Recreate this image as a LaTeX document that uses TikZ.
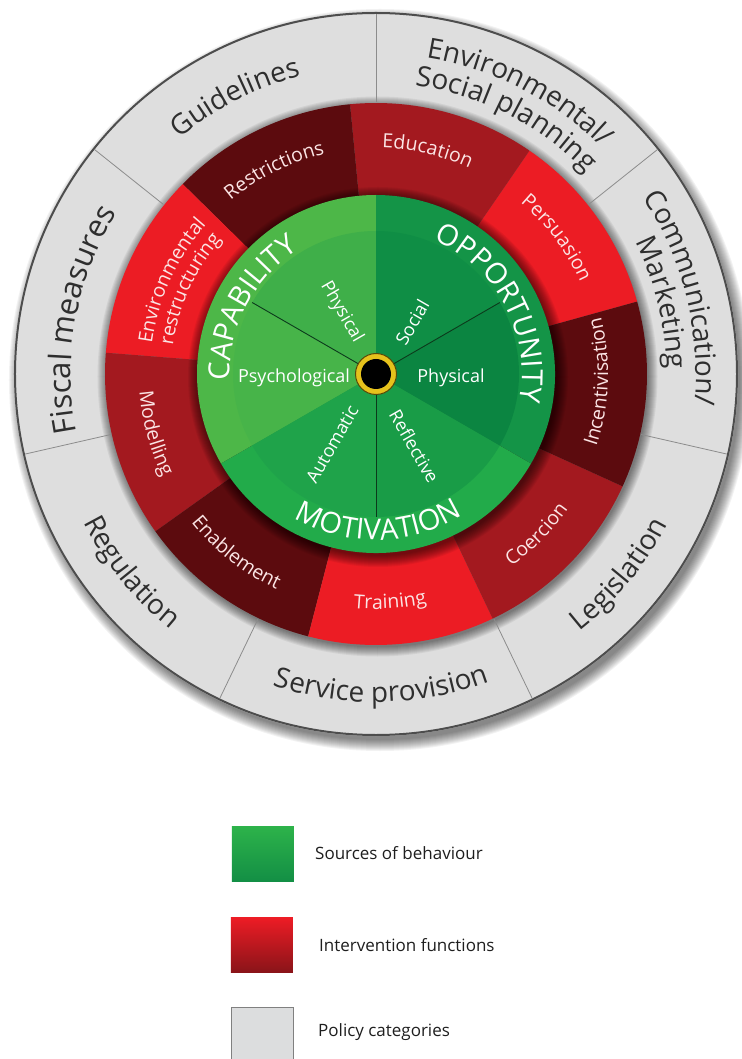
\documentclass[tikz,border=0pt]{standalone}
\usepackage{fontspec}
\setmainfont{Open Sans}
\usetikzlibrary{decorations.text}
\definecolor{polfill}{HTML}{DEDEDE}
\definecolor{polline}{HTML}{4D4D4D}
\definecolor{divcol}{HTML}{8C8C8C}
\definecolor{poltxt}{HTML}{2E2E2E}
\definecolor{inttxt}{HTML}{FBE4E4}
\definecolor{rb}{HTML}{EC1C24}
\definecolor{rm}{HTML}{A3191F}
\definecolor{rd}{HTML}{5C0B0E}
\definecolor{capo}{HTML}{4DB748}
\definecolor{capph}{HTML}{3FAF49}
\definecolor{capps}{HTML}{47B449}
\definecolor{oppo}{HTML}{149447}
\definecolor{oppso}{HTML}{0F8E45}
\definecolor{oppph}{HTML}{0B8541}
\definecolor{moto}{HTML}{22AB4A}
\definecolor{motau}{HTML}{1FA34A}
\definecolor{motre}{HTML}{199C47}
\definecolor{seccol}{HTML}{0C3A1C}
\definecolor{dotyel}{HTML}{E6C21C}
\definecolor{dotedge}{HTML}{5A4A08}
\definecolor{legGa}{HTML}{2DB34A}
\definecolor{legGb}{HTML}{138F45}
\definecolor{legRa}{HTML}{EE1C25}
\definecolor{legRb}{HTML}{8A1419}
\definecolor{legGray}{HTML}{DCDDDE}
\definecolor{legtxt}{HTML}{1E1E1E}
\newcommand\fPol{\fontsize{28pt}{30pt}\selectfont\color{poltxt}}
\newcommand\fPolL{\fontsize{31pt}{33pt}\selectfont\color{poltxt}}
\newcommand\fInt{\fontsize{19.5pt}{21pt}\selectfont\color{inttxt}}
\newcommand\fSrc{\fontsize{29pt}{31pt}\selectfont\color{white}}
\newcommand\ArcTop[4]{\path[decorate,decoration={text along path,text={|#1|#2},text align=center}] ({#3+80}:#4) arc[start angle={#3+80},end angle={#3-80},radius=#4];}
\newcommand\ArcBot[4]{\path[decorate,decoration={text along path,text={|#1|#2},text align=center}] ({#3-80}:#4) arc[start angle={#3-80},end angle={#3+80},radius=#4];}
\tikzset{
  divline/.style={draw=divcol,line width=0.8pt},
  secline/.style={draw=seccol,line width=0.9pt},
  srcsub/.style={font=\fontsize{18pt}{20pt}\selectfont,text=white,inner sep=0pt},
  legbox/.style={minimum width=62pt,minimum height=55pt,inner sep=0pt},
  legtext/.style={font=\fontsize{17pt}{19pt}\selectfont,text=legtxt,anchor=west,inner sep=0pt}
}
\begin{document}
\begin{tikzpicture}
\useasboundingbox (-376pt,-685pt) rectangle (365pt,374pt);
% outer drop shadow
\foreach \i in {1,...,12}{\pgfmathsetmacro\rr{359+\i}\fill[black,opacity=0.05] (4pt,-6pt) circle (\rr pt);}
% policy ring
\fill[polfill] (0,0) circle (362pt);
\draw[line width=2pt,draw=polline] (0,0) circle (361pt);
% shadow of red ring
\foreach \i in {1,...,10}{\pgfmathsetmacro\rr{270+\i}\fill[black,opacity=0.055] (1.5pt,-2.5pt) circle (\rr pt);}
% intervention sectors
\foreach \a/\c in {15.5/rb,55.5/rm,95.5/rd,135.5/rb,175.5/rm,215.5/rd,255.5/rb,295.5/rm,335.5/rd}
  \fill[\c] (0,0) -- (\a:271pt) arc[start angle=\a,end angle=\a+40,radius=271pt] -- cycle;
% policy dividers
\foreach \a in {38.571,90,141.429,192.857,244.286,295.714,347.143}
  \draw[divline] (\a:272pt) -- (\a:360pt);
% shadow of green disc
\foreach \i in {1,...,12}{\pgfmathsetmacro\rr{178+\i}\fill[black,opacity=0.055] (2pt,-3pt) circle (\rr pt);}
% sources
\fill[capo] (0,0) -- (90:179pt) arc[start angle=90,end angle=210,radius=179pt] -- cycle;
\fill[moto] (0,0) -- (210:179pt) arc[start angle=210,end angle=330,radius=179pt] -- cycle;
\fill[oppo] (0,0) -- (-30:179pt) arc[start angle=-30,end angle=90,radius=179pt] -- cycle;
\fill[capph] (0,0) -- (90:143pt) arc[start angle=90,end angle=150,radius=143pt] -- cycle;
\fill[capps] (0,0) -- (150:143pt) arc[start angle=150,end angle=210,radius=143pt] -- cycle;
\fill[motau] (0,0) -- (210:143pt) arc[start angle=210,end angle=270,radius=143pt] -- cycle;
\fill[motre] (0,0) -- (270:143pt) arc[start angle=270,end angle=330,radius=143pt] -- cycle;
\fill[oppph] (0,0) -- (-30:143pt) arc[start angle=-30,end angle=30,radius=143pt] -- cycle;
\fill[oppso] (0,0) -- (30:143pt) arc[start angle=30,end angle=90,radius=143pt] -- cycle;
\foreach \a in {30,150,270} \draw[secline] (0,0) -- (\a:143pt);
% hub
\filldraw[fill=dotyel,draw=dotedge,line width=1pt] (0,0) circle (20.5pt);
\fill[black] (0,0) circle (15pt);
% source labels
\ArcTop{\fSrc}{CAPABILITY}{152}{146pt}
\ArcTop{\fSrc}{OPPORTUNITY}{28}{146pt}
\ArcBot{\fSrc}{MOTIVATION}{271}{166pt}
\node[srcsub,rotate=-60] (capphys) at (119:71pt) {Physical};
\node[srcsub] (psy) at (-82pt,-4pt) {Psychological};
\node[srcsub,rotate=60] (social) at (55:63pt) {Social};
\node[srcsub] (oppphys) at (75pt,-4pt) {Physical};
\node[srcsub,rotate=-60] (refl) at (298:82pt) {Reflective};
\node[srcsub,rotate=60] (auto) at (238:83pt) {Automatic};
% intervention labels
\ArcTop{\fInt}{Persuasion}{37}{224pt}
\ArcTop{\fInt}{Education}{77}{226pt}
\ArcTop{\fInt}{Restrictions}{116.5}{226pt}
\ArcTop{\fInt}{Environmental}{155.5}{226pt}
\ArcTop{\fInt}{restructuring}{155.5}{205pt}
\ArcBot{\fInt}{Modelling}{195}{237pt}
\ArcBot{\fInt}{Enablement}{232}{237pt}
\ArcBot{\fInt}{Training}{273.5}{235pt}
\ArcBot{\fInt}{Coercion}{315}{235pt}
\ArcBot{\fInt}{Incentivisation}{358}{232pt}
% policy labels
\ArcTop{\fPol}{Guidelines}{117}{307pt}
\ArcTop{\fPol}{Environmental/}{63}{320pt}
\ArcTop{\fPol}{Social planning}{63}{291pt}
\ArcTop{\fPol}{Communication/}{14}{320pt}
\ArcTop{\fPol}{Marketing}{14}{291pt}
\ArcTop{\fPolL}{Fiscal measures}{169.5}{305pt}
\ArcBot{\fPol}{Regulation}{219}{328pt}
\ArcBot{\fPol}{Service provision}{271}{328pt}
\ArcBot{\fPol}{Legislation}{320.5}{328pt}
% legend
\node[legbox,top color=legGa,bottom color=legGb] (lgreen) at (-113pt,-479.5pt) {};
\node[legbox,top color=legRa,bottom color=legRb] (lred) at (-114pt,-570.5pt) {};
\node[legbox,fill=legGray,draw=gray,line width=0.8pt] (lgray) at (-114pt,-660.5pt) {};
\node[legtext] (tgreen) at (-61pt,-479pt) {Sources of behaviour};
\node[legtext] (tred) at (-57pt,-571pt) {Intervention functions};
\node[legtext] (tgray) at (-58pt,-658pt) {Policy categories};
\end{tikzpicture}
\end{document}
